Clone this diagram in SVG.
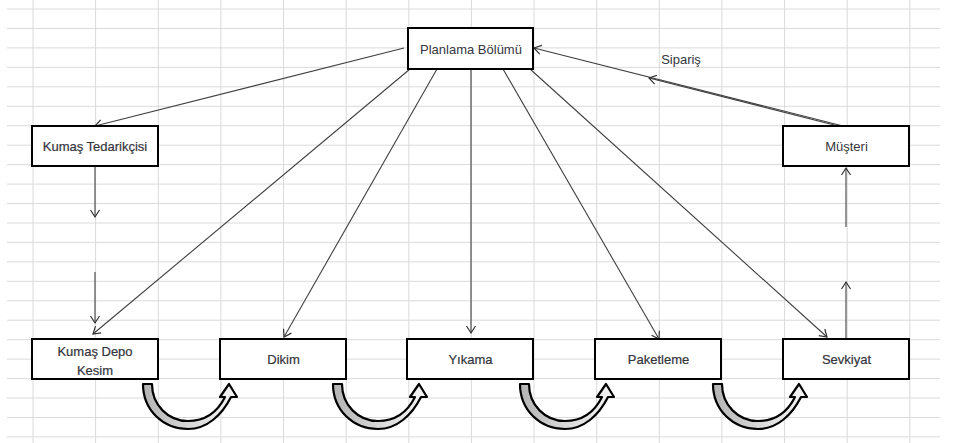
<svg xmlns="http://www.w3.org/2000/svg" width="956" height="443" viewBox="0 0 956 443">
<defs>
<style>
.grid{stroke:#dadada;stroke-width:1;fill:none}
.box{fill:#fff;stroke:#000;stroke-width:2}
.lbl{font-family:"Liberation Sans",Arial,sans-serif;font-size:13px;fill:#363640;text-anchor:middle}
.semi{stroke:#363640;stroke-width:0.22}
.con{stroke:#404040;stroke-width:1.1;fill:none}
.arr{marker-end:url(#ah)}
.uturn{fill:url(#ug);stroke:#000;stroke-width:2.2;stroke-linejoin:round}
</style>
<marker id="ah" viewBox="-1 -6 10 12" refX="7" refY="0" markerWidth="10" markerHeight="12" markerUnits="userSpaceOnUse" orient="auto">
<path d="M0,-4.5 L7,0 L0,4.5" fill="none" stroke="#333" stroke-width="1.2"/>
</marker>
<linearGradient id="ug" x1="0" y1="0" x2="1" y2="0">
<stop offset="0" stop-color="#b4b4b4"/>
<stop offset="0.55" stop-color="#dcdcdc"/>
<stop offset="1" stop-color="#f6f6f6"/>
</linearGradient>
<path id="ut" d="M143,384 C143,410 163,429 188,429 C207,429 222,415 231,397 L237,397 L229,384 L220,397 L225,397 C217,413 205,421 188,421 C168,421 152,405 152,384 Z"/>
</defs>
<rect width="956" height="443" fill="#fff"/>
<g id="grid" class="grid">
<path d="M33,0V443M95.6,0V443M158.3,0V443M220.9,0V443M283.5,0V443M346.2,0V443M408.8,0V443M471.4,0V443M534,0V443M596.7,0V443M659.3,0V443M721.9,0V443M784.6,0V443M847.2,0V443M909.8,0V443"/>
<path d="M7,9H940M7,28.5H940M7,47.9H940M7,67.4H940M7,86.8H940M7,106.3H940M7,125.7H940M7,145.2H940M7,164.6H940M7,184.1H940M7,203.5H940M7,223H940M7,242.4H940M7,261.9H940M7,281.3H940M7,300.8H940M7,320.2H940M7,339.7H940M7,359.1H940M7,378.6H940M7,398H940M7,417.5H940M7,436.9H940"/>
</g>
<g id="connectors">
<path class="con arr" d="M404,48 L95,126"/>
<path class="con arr" d="M95,166 L95,217"/>
<path class="con arr" d="M95,272 L95,323"/>
<path class="con arr" d="M410,69 L93,334"/>
<path class="con arr" d="M437,69 L284,337"/>
<path class="con arr" d="M471,69 L471,333"/>
<path class="con arr" d="M503,69 L659,339"/>
<path class="con arr" d="M530,69 L827,337"/>
<path class="con arr" d="M846,339 L846,282"/>
<path class="con arr" d="M846,227 L846,168"/>
<path class="con arr" d="M843,126 L534,48"/>
<path class="con arr" d="M843,127.2 L649,78"/>
<text class="lbl" x="681" y="64">Sipariş</text>
</g>
<g id="flow-arrows">
<use href="#ut" class="uturn"/>
<use href="#ut" class="uturn" transform="translate(190,0)"/>
<use href="#ut" class="uturn" transform="translate(377,0)"/>
<use href="#ut" class="uturn" transform="translate(570,0)"/>
</g>
<g id="planlama"><rect class="box" x="408" y="28" width="125" height="41"/><text class="lbl" x="471" y="54">Planlama Bölümü</text></g>
<g id="tedarikci"><rect class="box" x="32" y="126" width="126" height="40"/><text class="lbl semi" x="95" y="150.5">Kumaş Tedarikçisi</text></g>
<g id="musteri"><rect class="box" x="783" y="126" width="126" height="40"/><text class="lbl" x="846.5" y="150.5">Müşteri</text></g>
<g id="kesim"><rect class="box" x="32" y="339" width="126" height="40"/><text class="lbl semi" x="95" y="356">Kumaş Depo</text><text class="lbl semi" x="95" y="375">Kesim</text></g>
<g id="dikim"><rect class="box" x="220" y="339" width="126" height="40"/><text class="lbl semi" x="283.5" y="363.5">Dikim</text></g>
<g id="yikama"><rect class="box" x="407" y="339" width="126" height="40"/><text class="lbl semi" x="470.5" y="363.5">Yıkama</text></g>
<g id="paketleme"><rect class="box" x="595" y="339" width="126" height="40"/><text class="lbl semi" x="658.5" y="363.5">Paketleme</text></g>
<g id="sevkiyat"><rect class="box" x="783" y="339" width="126" height="40"/><text class="lbl semi" x="846.5" y="363.5">Sevkiyat</text></g>
</svg>
